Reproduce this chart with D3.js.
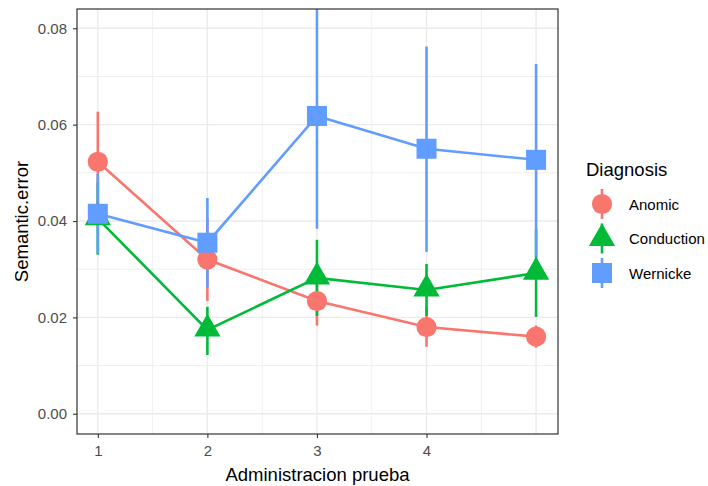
<!DOCTYPE html>
<html>
<head>
<meta charset="utf-8">
<script src="https://cdn.jsdelivr.net/npm/d3@7"></script>
<style>
  body { margin: 0; background: #fff; }
  text { font-family: "Liberation Sans", Arial, sans-serif; }
</style>
</head>
<body>
<div id="chart"></div>
<script>
// data
var sessions = [1, 2, 3, 4, 5];
var diagnoses = ["Anomic", "Conduction", "Wernicke"];
var colors = ["#F8766D", "#00BA38", "#619CFF"];

var anomicMean = [0.0523, 0.0320, 0.0234, 0.0180, 0.0160];
var anomicLow  = [0.0420, 0.0234, 0.0183, 0.0139, 0.0137];
var anomicHigh = [0.0627, 0.0406, 0.0285, 0.0221, 0.0183];

var conductionMean = [0.0405, 0.0174, 0.0282, 0.0257, 0.0292];
var conductionLow  = [0.0330, 0.0122, 0.0203, 0.0203, 0.0201];
var conductionHigh = [0.0480, 0.0222, 0.0361, 0.0311, 0.0383];

var wernickeMean = [0.0415, 0.0355, 0.0618, 0.0550, 0.0527];
var wernickeLow  = [0.0332, 0.0262, 0.0384, 0.0336, 0.0326];
var wernickeHigh = [0.0498, 0.0448, 0.0848, 0.0762, 0.0726];

var xTicks = [1, 2, 3, 4];
var xGrid = [1, 1.5, 2, 2.5, 3, 3.5, 4, 4.5, 5];
var yTicks = [0, 0.02, 0.04, 0.06, 0.08];
var yMinor = [0.01, 0.03, 0.05, 0.07];

var means = [anomicMean, conductionMean, wernickeMean];
var lows = [anomicLow, conductionLow, wernickeLow];
var highs = [anomicHigh, conductionHigh, wernickeHigh];

var series = diagnoses.map(function(name, k) {
  return {
    name: name,
    color: colors[k],
    values: sessions.map(function(s, i) {
      return {x: s, y: means[k][i], lo: lows[k][i], hi: highs[k][i]};
    })
  };
});

var width = 708, height = 486;
var margin = {top: 9, right: 150, bottom: 52, left: 77};
var pw = width - margin.left - margin.right;
var ph = height - margin.top - margin.bottom;

var x = d3.scaleLinear().domain([0.81, 5.2]).range([0, pw]);
var y = d3.scaleLinear().domain([-0.0042, 0.084]).range([ph, 0]);

var svg = d3.select("#chart").append("svg")
  .attr("width", width)
  .attr("height", height);

var g = svg.append("g")
  .attr("transform", "translate(" + margin.left + "," + margin.top + ")");

g.append("defs").append("clipPath").attr("id", "panel")
  .append("rect").attr("width", pw).attr("height", ph);

// grid
g.selectAll(".yminor").data(yMinor).enter().append("line")
  .attr("x1", 0).attr("x2", pw)
  .attr("y1", function(d) { return y(d); }).attr("y2", function(d) { return y(d); })
  .attr("stroke", "#EBEBEB").attr("stroke-width", 0.8);
g.selectAll(".ymajor").data(yTicks).enter().append("line")
  .attr("x1", 0).attr("x2", pw)
  .attr("y1", function(d) { return y(d); }).attr("y2", function(d) { return y(d); })
  .attr("stroke", "#EBEBEB").attr("stroke-width", 1.4);
g.selectAll(".xgrid").data(xGrid).enter().append("line")
  .attr("y1", 0).attr("y2", ph)
  .attr("x1", function(d) { return x(d); }).attr("x2", function(d) { return x(d); })
  .attr("stroke", "#EBEBEB")
  .attr("stroke-width", function(d) { return d % 1 === 0 ? 1.4 : 0.8; });

var plot = g.append("g").attr("clip-path", "url(#panel)");

var line = d3.line()
  .x(function(d) { return x(d.x); })
  .y(function(d) { return y(d.y); });

// lines
plot.selectAll(".series-line").data(series).enter().append("path")
  .attr("d", function(d) { return line(d.values); })
  .attr("fill", "none")
  .attr("stroke", function(d) { return d.color; })
  .attr("stroke-width", 2.6);

// error bars
series.forEach(function(s) {
  plot.selectAll(null).data(s.values).enter().append("line")
    .attr("x1", function(d) { return x(d.x); })
    .attr("x2", function(d) { return x(d.x); })
    .attr("y1", function(d) { return y(d.lo); })
    .attr("y2", function(d) { return y(d.hi); })
    .attr("stroke", s.color)
    .attr("stroke-width", 2.6);
});

var shapes = [d3.symbolCircle, d3.symbolTriangle, d3.symbolSquare];
var sizes = [320, 300, 400];

// points
series.forEach(function(s, k) {
  var sym = d3.symbol().type(shapes[k]).size(sizes[k]);
  plot.selectAll(null).data(s.values).enter().append("path")
    .attr("d", sym)
    .attr("transform", function(d) {
      return "translate(" + x(d.x) + "," + (y(d.y) + (k === 1 ? -1 : 0)) + ")";
    })
    .attr("fill", s.color);
});

// panel border
g.append("rect")
  .attr("width", pw).attr("height", ph)
  .attr("fill", "none").attr("stroke", "#333333").attr("stroke-width", 1.2);

// axes
var xAxis = g.append("g")
  .attr("transform", "translate(0," + ph + ")")
  .call(d3.axisBottom(x).tickValues(xTicks).tickFormat(d3.format("d")).tickSize(4).tickPadding(7));
var yAxis = g.append("g")
  .call(d3.axisLeft(y).tickValues(yTicks).tickFormat(d3.format(".2f")).tickSize(4).tickPadding(6));

[xAxis, yAxis].forEach(function(a) {
  a.select(".domain").remove();
  a.selectAll(".tick line").attr("stroke", "#333333").attr("stroke-width", 1.1);
  a.selectAll(".tick text")
    .attr("fill", "#4D4D4D")
    .style("font-size", "15px")
    .style("font-family", "'Liberation Sans', Arial, sans-serif");
});

// axis titles
svg.append("text")
  .attr("x", margin.left + pw / 2)
  .attr("y", 481)
  .attr("text-anchor", "middle")
  .style("font-size", "18.5px")
  .attr("fill", "#000")
  .text("Administracion prueba");

svg.append("text")
  .attr("transform", "translate(28," + (margin.top + ph / 2) + ") rotate(-90)")
  .attr("text-anchor", "middle")
  .style("font-size", "18.5px")
  .attr("fill", "#000")
  .text("Semantic.error");

// legend
var legend = svg.append("g").attr("transform", "translate(586,0)");
legend.append("text")
  .attr("x", 0).attr("y", 176)
  .style("font-size", "18.5px")
  .attr("fill", "#000")
  .text("Diagnosis");

var keys = legend.selectAll(".key").data(series).enter().append("g")
  .attr("transform", function(d, i) { return "translate(16," + (204 + i * 34.5) + ")"; });

keys.append("line")
  .attr("y1", -15).attr("y2", 15)
  .attr("stroke", function(d) { return d.color; })
  .attr("stroke-width", 2.6);
keys.append("path")
  .attr("d", function(d, i) { return d3.symbol().type(shapes[i]).size(sizes[i])(); })
  .attr("fill", function(d) { return d.color; });
keys.append("text")
  .attr("x", 27).attr("y", 5.5)
  .style("font-size", "15px")
  .attr("fill", "#000")
  .text(function(d) { return d.name; });
</script>
</body>
</html>
